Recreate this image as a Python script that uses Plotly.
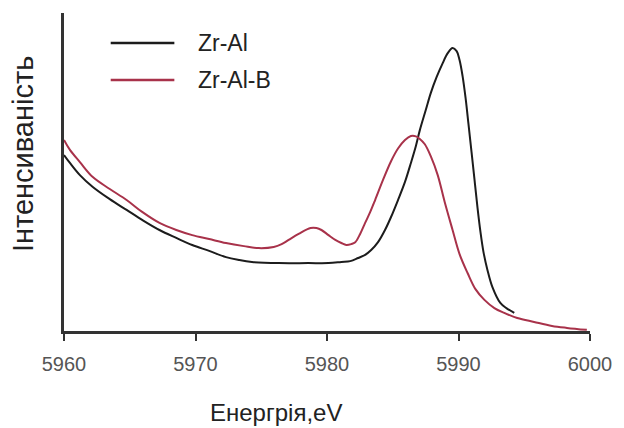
import plotly.graph_objects as go

# Energy (eV) and intensity (a.u.)
energy_zral = [5960.00, 5960.45, 5961.21, 5962.19, 5963.48, 5964.76, 5965.97, 5967.26, 5968.54,
               5969.75, 5971.04, 5972.32, 5973.30, 5974.29, 5976.33, 5978.59, 5980.11, 5981.09,
               5981.77, 5982.37, 5982.90, 5983.36, 5983.88, 5984.41, 5984.87, 5985.40, 5985.93,
               5986.38, 5986.76, 5987.06, 5987.51, 5987.89, 5988.34, 5988.80, 5989.18, 5989.55,
               5989.86, 5990.08, 5990.31, 5990.54, 5990.76, 5990.99, 5991.22, 5991.44, 5991.67,
               5991.90, 5992.20, 5992.58, 5993.18, 5993.64, 5994.24]
intensity_zral = [0.622, 0.594, 0.551, 0.509, 0.466, 0.428, 0.392, 0.357, 0.329,
                  0.304, 0.283, 0.261, 0.251, 0.244, 0.240, 0.240, 0.240, 0.244,
                  0.247, 0.258, 0.269, 0.286, 0.314, 0.357, 0.403, 0.463, 0.527,
                  0.594, 0.654, 0.710, 0.781, 0.841, 0.898, 0.947, 0.982, 1.000,
                  0.989, 0.958, 0.901, 0.823, 0.731, 0.633, 0.534, 0.438, 0.350,
                  0.279, 0.216, 0.155, 0.099, 0.081, 0.064]

energy_zralb = [5960.00, 5960.45, 5961.21, 5962.19, 5963.48, 5964.76, 5965.97, 5967.26, 5968.54,
                5969.75, 5971.04, 5972.32, 5973.68, 5974.81, 5975.95, 5976.55, 5977.08, 5977.84,
                5978.75, 5979.20, 5979.58, 5980.11, 5980.63, 5981.09, 5981.47, 5981.84, 5982.15,
                5982.52, 5982.90, 5983.28, 5983.66, 5984.26, 5984.87, 5985.40, 5985.93, 5986.38,
                5986.76, 5987.06, 5987.44, 5987.89, 5988.42, 5988.95, 5989.55, 5990.08, 5990.69,
                5991.29, 5991.97, 5992.73, 5993.48, 5994.47, 5995.75, 5997.11, 5998.25, 5999.76]
intensity_zralb = [0.675, 0.640, 0.597, 0.544, 0.502, 0.463, 0.420, 0.382, 0.357,
                   0.339, 0.325, 0.311, 0.300, 0.293, 0.297, 0.307, 0.322, 0.343,
                   0.364, 0.364, 0.357, 0.339, 0.322, 0.311, 0.304, 0.307, 0.314,
                   0.343, 0.382, 0.420, 0.463, 0.534, 0.600, 0.645, 0.675, 0.689,
                   0.688, 0.679, 0.660, 0.618, 0.551, 0.456, 0.357, 0.272, 0.205,
                   0.148, 0.110, 0.081, 0.064, 0.046, 0.032, 0.018, 0.011, 0.004]

series_names = ["Zr-Al", "Zr-Al-B"]
series_colors = ["#1c1c1c", "#a8324a"]
x_ticks = [5960, 5970, 5980, 5990, 6000]
x_title = "Енергрія,eV"
y_title = "Інтенсиваність"

FONT = "Liberation Sans, Arial, sans-serif"

fig = go.Figure()
fig.add_trace(go.Scatter(x=energy_zral, y=intensity_zral, mode="lines", name=series_names[0],
                         line=dict(color=series_colors[0], width=2, shape="spline", smoothing=1.0)))
fig.add_trace(go.Scatter(x=energy_zralb, y=intensity_zralb, mode="lines", name=series_names[1],
                         line=dict(color=series_colors[1], width=2, shape="spline", smoothing=1.0)))

# manual legend (long line samples as in the reference)
legend_y = [0.9057, 0.789]
for name, color, ly in zip(series_names, series_colors, legend_y):
    fig.add_shape(type="line", xref="paper", yref="paper", x0=0.0888, x1=0.2098, y0=ly, y1=ly,
                  line=dict(color=color, width=2.5))
    fig.add_annotation(xref="paper", yref="paper", x=0.2514, y=ly, xanchor="left", yanchor="middle",
                       text=name, showarrow=False, font=dict(family=FONT, size=23, color="#222"))

fig.add_annotation(xref="paper", yref="paper", x=0.403, y=-0.255, xanchor="center", yanchor="middle",
                   text=x_title, showarrow=False, font=dict(family=FONT, size=24, color="#222"))
fig.add_annotation(xref="paper", yref="paper", x=-0.0775, y=0.557, xanchor="center", yanchor="middle",
                   text=y_title, textangle=-90, showarrow=False, font=dict(family=FONT, size=29, color="#222"))

fig.update_layout(
    width=624, height=428,
    margin=dict(l=64, r=31, t=13, b=97),
    paper_bgcolor="white", plot_bgcolor="white",
    showlegend=False,
    xaxis=dict(range=[5960, 6000], tickvals=x_ticks, ticks="outside", ticklen=7, tickwidth=2,
               tickcolor="#333", showline=True, linecolor="#333", linewidth=2.5, showgrid=False,
               zeroline=False, ticklabelstandoff=6,
               tickfont=dict(family=FONT, size=20, color="#555")),
    yaxis=dict(range=[0, 1.124], showticklabels=False, ticks="", showline=True, linecolor="#333",
               linewidth=2.5, showgrid=False, zeroline=False),
)

fig.write_html("out.html")
